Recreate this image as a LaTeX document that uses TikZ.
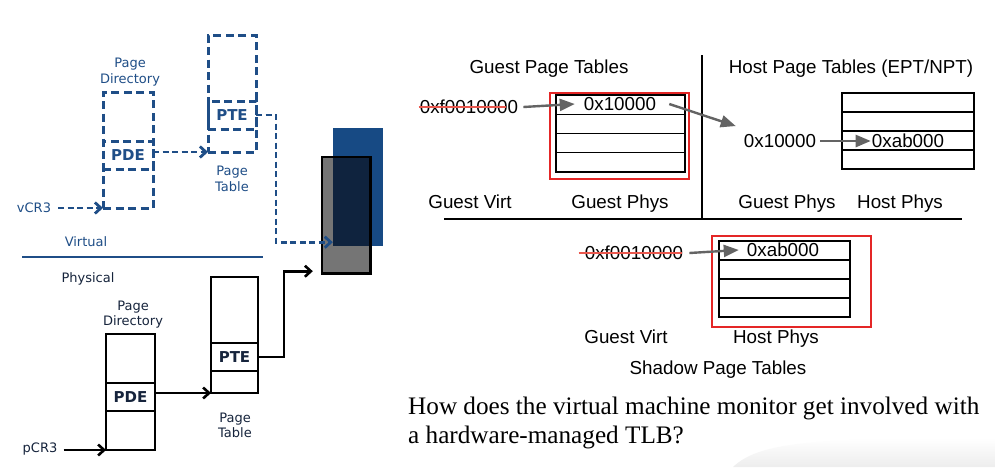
\documentclass[tikz,border=0pt]{standalone}
\usepackage{fontspec}
\setmainfont{Liberation Serif}
\setsansfont{Liberation Sans}
\newfontfamily\vfont{DejaVu Sans}
\usepackage{tikz}
\usetikzlibrary{
  positioning,
  calc,
  arrows.meta
}
\definecolor{vblue}{RGB}{31,78,135}
\definecolor{pageblue}{RGB}{23,74,132}
\definecolor{pnavy}{RGB}{22,36,60}
\definecolor{pagegray}{RGB}{117,117,117}
\definecolor{overlap}{RGB}{15,35,62}
\definecolor{agray}{RGB}{100,100,100}
\definecolor{selred}{RGB}{228,38,38}
\definecolor{strikered}{RGB}{234,88,78}

\tikzstyle{vbox}=[draw=vblue, line width=3pt, dash pattern=on 8pt off 4.5pt, inner sep=0pt, outer sep=0pt]
\tikzstyle{pbox}=[draw=black, line width=2.8pt, inner sep=0pt, outer sep=0pt]
\tikzstyle{vlbl}=[font=\vfont\fontsize{13}{16}\selectfont, text=vblue, align=center, inner sep=0pt]
\tikzstyle{plbl}=[font=\vfont\fontsize{13}{15}\selectfont, text=pnavy, align=center, inner sep=0pt]
\tikzstyle{entry}=[font=\vfont\bfseries\fontsize{15}{18}\selectfont]
\tikzstyle{varrow}=[draw=vblue, line width=2.8pt, dash pattern=on 6pt off 3.5pt, -{Straight Barb[length=6pt,width=11pt]}]
\tikzstyle{parrow}=[draw=black, line width=2.6pt, -{Straight Barb[length=6pt,width=11pt]}]
\tikzstyle{rtxt}=[font=\sffamily\fontsize{18.8}{22}\selectfont, inner sep=0pt, text height=13.5pt, text depth=0pt]
\tikzstyle{row}=[draw, line width=1.4pt, inner sep=0pt, outer sep=0pt, minimum height=19pt]
\tikzstyle{redbox}=[draw=selred, line width=2.4pt, inner sep=0pt]
\tikzstyle{garrow}=[draw=agray, line width=2.4pt, -{Triangle[length=15pt,width=12pt]}]
\tikzstyle{strike}=[draw=strikered, line width=2.8pt]
\tikzstyle{qtxt}=[font=\fontsize{25.2}{29}\selectfont, anchor=base west, inner sep=0pt]

\begin{document}
\begin{tikzpicture}[x=1pt, y=-1pt]
  \path[use as bounding box, fill=white] (0,0) rectangle (995,467);
  % 右下の影
  \shade[top color=white, bottom color=gray!14] (733,467) .. controls (760,441) and (820,438) .. (995,438) -- (995,467) -- cycle;

  % 左側: ゲストの2段ページテーブル
  \begin{scope}
    % 仮想側
    \node[vbox, minimum width=50pt, minimum height=116pt] (vPD) at (128,150) {};
    \node[vbox, entry, text=vblue, minimum width=50pt, minimum height=28pt] (vPDE) at (128,155) {PDE};
    \node[vlbl] at (130,72.5) {Page\\Directory};
    \node[vbox, minimum width=48pt, minimum height=117pt] (vPT) at (232,93.5) {};
    \node[vbox, entry, text=vblue, minimum width=48pt, minimum height=28pt] (vPTE) at (232,115) {PTE};
    \node[vlbl] at (232,179) {Page\\Table};
    \node[vlbl] (vcr3) at (34,208) {vCR3};

    % ページ本体
    \node[fill=pageblue, minimum width=50pt, minimum height=118pt, inner sep=0pt] (vpage) at (358,187) {};
    \node[fill=pagegray, minimum width=48pt, minimum height=116pt, inner sep=0pt] (ppage) at (346,215) {};
    \fill[overlap] (vpage.west |- ppage.north) rectangle (ppage.east |- vpage.south);
    \draw[line width=2.6pt] (ppage.south west) rectangle (ppage.north east);

    % 境界線
    \node[vlbl] at (86,242) {Virtual};
    \draw[vblue, line width=2.4pt] (22,257) -- (263,257);
    \node[plbl] at (88,278.5) {Physical};

    % 物理側
    \node[pbox, minimum width=49pt, minimum height=116pt] (pPD) at (130.5,392) {};
    \node[pbox, entry, text=pnavy, minimum width=49pt, minimum height=28pt] (pPDE) at (130.5,397) {PDE};
    \node[plbl] at (133,314.5) {Page\\Directory};
    \node[pbox, minimum width=47pt, minimum height=116pt] (pPT) at (234.5,335) {};
    \node[pbox, entry, text=pnavy, minimum width=47pt, minimum height=28pt] (pPTE) at (234.5,357) {PTE};
    \node[plbl] at (235,425) {Page\\Table};
    \node[plbl] (pcr3) at (40,449.5) {pCR3};

    % 矢印
    \draw[varrow] ([xshift=7pt]vcr3.east) -- (vPD.south west);
    \draw[varrow] (vPDE.east |- vPT.south) -- (vPT.south west);
    \draw[varrow] (vPTE.east) -- ++(20,0) |- ([yshift=4pt]vpage.south west);
    \draw[parrow] ([xshift=6pt]pcr3.east |- pPD.south) -- (pPD.south west);
    \draw[parrow] (pPDE.east |- pPT.south) -- (pPT.south west);
    \draw[parrow] (pPTE.east) -- ++(26,0) |- ([xshift=-9pt,yshift=2pt]ppage.south west);
  \end{scope}

  % 右側: ゲスト/ホストのページテーブル
  \begin{scope}
    \node[rtxt] (gtitle) at (549,67) {Guest Page Tables};
    \node[rtxt] (htitle) at (851,67) {Host Page Tables (EPT/NPT)};
    \draw[line width=2.4pt] (702,55) -- (702,220);
    \draw[line width=2.4pt] (444,219) -- (962,219);

    % ゲストページテーブル
    \node[rtxt] (gva) at (469,107) {0xf0010000};
    \draw[strike] ([xshift=-1pt]gva.west) -- ([xshift=-12pt]gva.east);
    \node[row, minimum width=129pt, minimum height=19.25pt] (g1) at (620.5,104.6) {};
    \node[row, minimum width=129pt, minimum height=19.25pt, below=0pt of g1] (g2) {};
    \node[row, minimum width=129pt, minimum height=19.25pt, below=0pt of g2] (g3) {};
    \node[row, minimum width=129pt, minimum height=19.25pt, below=0pt of g3] (g4) {};
    \node[rtxt] (g1t) at (620,104) {0x10000};
    \node[redbox, minimum width=139pt, minimum height=86pt] (gsel) at (619.5,136) {};
    \draw[garrow] ([xshift=5pt]gva.east) -- ([xshift=-9pt]g1t.west);

    % ホストページテーブル
    \node[rtxt] (hgpa) at (780,141) {0x10000};
    \node[row, minimum width=132pt] (h1) at (908,102.5) {};
    \node[row, minimum width=132pt, below=0pt of h1] (h2) {};
    \node[row, minimum width=132pt, below=0pt of h2] (h3) {};
    \node[row, minimum width=132pt, below=0pt of h3] (h4) {};
    \node[rtxt] (hhpa) at (908,141) {0xab000};
    \draw[garrow] ([xshift=13pt]g1t.east) -- ([xshift=-8pt,yshift=8pt]hgpa.north west);
    \draw[garrow] ([xshift=4pt]hgpa.east) -- ([xshift=-1pt]hhpa.west);

    \node[rtxt] at (470,202) {Guest Virt};
    \node[rtxt] at (620,202) {Guest Phys};
    \node[rtxt] at (787,202) {Guest Phys};
    \node[rtxt] at (900,202) {Host Phys};

    % シャドウページテーブル
    \node[rtxt] (sgva) at (634,253) {0xf0010000};
    \draw[strike] ([xshift=-6pt]sgva.west) -- ([xshift=-1pt]sgva.east);
    \node[row, minimum width=131pt] (s1) at (784.5,250.5) {};
    \node[row, minimum width=131pt, below=0pt of s1] (s2) {};
    \node[row, minimum width=131pt, below=0pt of s2] (s3) {};
    \node[row, minimum width=131pt, below=0pt of s3] (s4) {};
    \node[rtxt] (s1t) at (783,250) {0xab000};
    \node[redbox, minimum width=159pt, minimum height=91pt] (ssel) at (791.5,281.5) {};
    \draw[garrow] ([xshift=6pt]sgva.east) -- ([xshift=-8pt]s1t.west);

    \node[rtxt] at (626,337) {Guest Virt};
    \node[rtxt] at (776,337) {Host Phys};
    \node[rtxt] at (718,368) {Shadow Page Tables};
  \end{scope}

  % 問い
  \node[qtxt] (q1) at (408,414) {How does the virtual machine monitor get involved with};
  \node[qtxt] (q2) at (408,443) {a hardware-managed TLB?};
\end{tikzpicture}
\end{document}
